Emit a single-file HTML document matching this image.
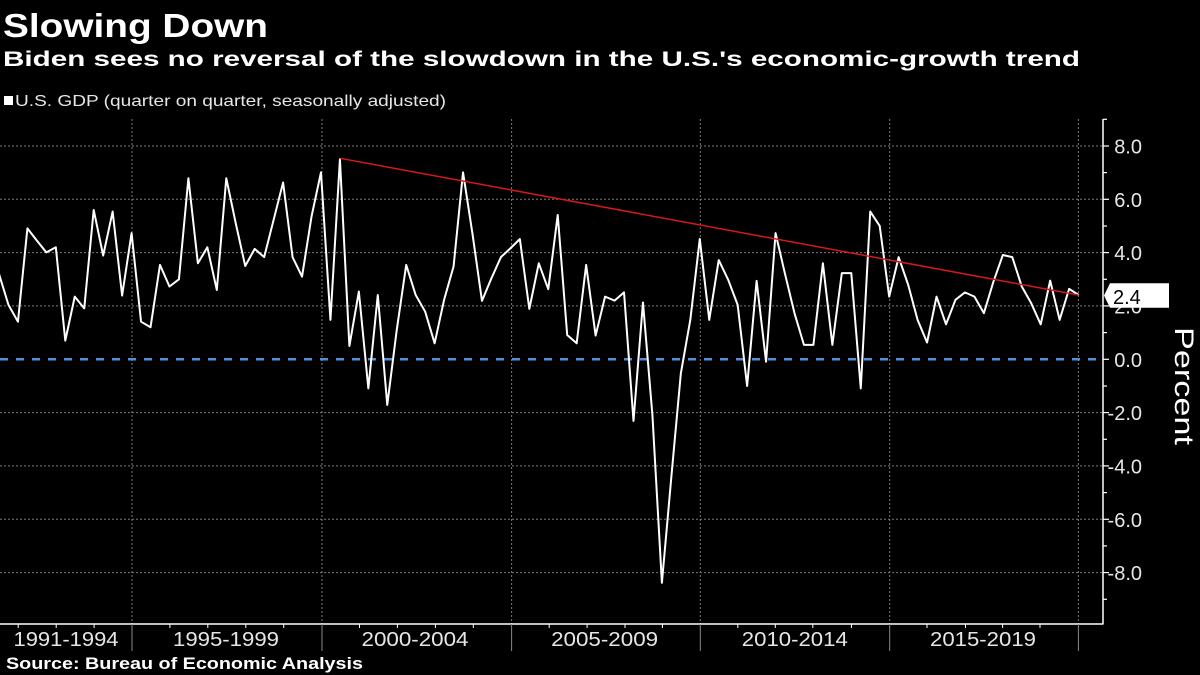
<!DOCTYPE html>
<html>
<head>
<meta charset="utf-8">
<style>
  html, body { margin:0; padding:0; background:#000; }
  body { width:1200px; height:675px; overflow:hidden; }
  svg { display:block; }
  text { font-family: "Liberation Sans", "DejaVu Sans", sans-serif; }
</style>
</head>
<body>
<svg width="1200" height="675" viewBox="0 0 1200 675" xmlns="http://www.w3.org/2000/svg">
  <rect x="0" y="0" width="1200" height="675" fill="#000"/>

  <!-- Titles -->
  <text x="3" y="37" font-size="33" font-weight="bold" fill="#fff" textLength="265" lengthAdjust="spacingAndGlyphs">Slowing Down</text>
  <text x="3" y="66" font-size="21" font-weight="bold" fill="#fff" textLength="1077" lengthAdjust="spacingAndGlyphs">Biden sees no reversal of the slowdown in the U.S.'s economic-growth trend</text>

  <!-- Legend -->
  <rect x="4" y="96" width="9" height="9" fill="#fff"/>
  <text x="15" y="106" font-size="16" fill="#e6e6e6" textLength="431" lengthAdjust="spacingAndGlyphs">U.S. GDP (quarter on quarter, seasonally adjusted)</text>

  <!-- Horizontal grid -->
  <g stroke="#7a7a7a" stroke-width="1" stroke-dasharray="2 2" fill="none">
    <line x1="0" y1="146" x2="1103" y2="146"/>
    <line x1="0" y1="199.3" x2="1103" y2="199.3"/>
    <line x1="0" y1="252.6" x2="1103" y2="252.6"/>
    <line x1="0" y1="305.9" x2="1103" y2="305.9"/>
    <line x1="0" y1="412.6" x2="1103" y2="412.6"/>
    <line x1="0" y1="465.9" x2="1103" y2="465.9"/>
    <line x1="0" y1="519.3" x2="1103" y2="519.3"/>
    <line x1="0" y1="572.6" x2="1103" y2="572.6"/>
  </g>
  <!-- Vertical grid -->
  <g stroke="#7a7a7a" stroke-width="1" stroke-dasharray="2 2" fill="none">
    <line x1="132" y1="119" x2="132" y2="624"/>
    <line x1="322" y1="119" x2="322" y2="624"/>
    <line x1="511.6" y1="119" x2="511.6" y2="624"/>
    <line x1="700.3" y1="119" x2="700.3" y2="624"/>
    <line x1="889.7" y1="119" x2="889.7" y2="624"/>
    <line x1="1078.4" y1="119" x2="1078.4" y2="624"/>
  </g>

  <!-- Zero line -->
  <line x1="0" y1="359.3" x2="1100" y2="359.3" stroke="#4b91de" stroke-width="2.5" stroke-dasharray="8 8"/>

  <!-- Data line -->
  <g transform="matrix(9.47 0 0 -26.67 -1 359.3)">
    <polyline fill="none" stroke="#fff" stroke-width="2" vector-effect="non-scaling-stroke" stroke-linejoin="round"
      points="0,3.2 1,2.04 2,1.41 3,4.91 4,4.45 5,4.01 6,4.2 7,0.7 8,2.35 9,1.91 10,5.6 11,3.89 12,5.54 13,2.39 14,4.73 15,1.41 16,1.2 17,3.54 18,2.73 19,3.0 20,6.79 21,3.6 22,4.2 23,2.6 24,6.79 25,5.1 26,3.5 27,4.14 28,3.83 29,5.23 30,6.63 31,3.83 32,3.1 33,5.35 34,7.01 35,1.48 36,7.5 37,0.5 38,2.54 39,-1.09 40,2.41 41,-1.71 42,1.1 43,3.54 44,2.41 45,1.79 46,0.6 47,2.23 48,3.48 49,7.01 50,4.7 51,2.19 52,3.04 53,3.83 54,4.16 55,4.51 56,1.89 57,3.6 58,2.63 59,5.41 60,0.91 61,0.6 62,3.54 63,0.89 64,2.35 65,2.2 66,2.51 67,-2.31 68,2.13 69,-2.1 70,-8.38 71,-4.4 72,-0.53 73,1.48 74,4.51 75,1.48 76,3.72 77,2.98 78,2.04 79,-1.0 80,2.94 81,-0.09 82,4.73 83,3.2 84,1.73 85,0.54 86,0.54 87,3.6 88,0.54 89,3.23 90,3.23 91,-1.09 92,5.54 93,5.0 94,2.35 95,3.83 96,2.8 97,1.48 98,0.63 99,2.35 100,1.31 101,2.23 102,2.51 103,2.35 104,1.73 105,2.9 106,3.91 107,3.83 108,2.73 109,2.1 110,1.31 111,2.95 112,1.48 113,2.64 114,2.41"/>
  </g>

  <!-- Trend line -->
  <line x1="340.3" y1="158.3" x2="1078.3" y2="295" stroke="#d81818" stroke-width="1.5"/>

  <!-- Axes -->
  <line x1="0" y1="624" x2="1103.5" y2="624" stroke="#fff" stroke-width="1.5"/>
  <line x1="1103" y1="119" x2="1103" y2="624" stroke="#fff" stroke-width="1.5"/>

  <!-- Right axis ticks -->
  <g stroke="#fff" stroke-width="1.2">
    <line x1="1103" y1="119.3" x2="1107" y2="119.3"/>
    <line x1="1103" y1="146" x2="1109" y2="146"/>
    <line x1="1103" y1="172.6" x2="1107" y2="172.6"/>
    <line x1="1103" y1="199.3" x2="1109" y2="199.3"/>
    <line x1="1103" y1="226" x2="1107" y2="226"/>
    <line x1="1103" y1="252.6" x2="1109" y2="252.6"/>
    <line x1="1103" y1="279.3" x2="1107" y2="279.3"/>
    <line x1="1103" y1="305.9" x2="1109" y2="305.9"/>
    <line x1="1103" y1="332.6" x2="1107" y2="332.6"/>
    <line x1="1103" y1="359.3" x2="1109" y2="359.3"/>
    <line x1="1103" y1="386" x2="1107" y2="386"/>
    <line x1="1103" y1="412.6" x2="1109" y2="412.6"/>
    <line x1="1103" y1="439.3" x2="1107" y2="439.3"/>
    <line x1="1103" y1="465.9" x2="1109" y2="465.9"/>
    <line x1="1103" y1="492.6" x2="1107" y2="492.6"/>
    <line x1="1103" y1="519.3" x2="1109" y2="519.3"/>
    <line x1="1103" y1="545.9" x2="1107" y2="545.9"/>
    <line x1="1103" y1="572.6" x2="1109" y2="572.6"/>
    <line x1="1103" y1="599.3" x2="1107" y2="599.3"/>
  </g>

  <!-- Right axis labels -->
  <g font-size="20" fill="#e6e6e6" text-anchor="end">
    <text x="1142" y="153.5">8.0</text>
    <text x="1142" y="206.8">6.0</text>
    <text x="1142" y="260.1">4.0</text>
    <text x="1142" y="313.4">2.0</text>
    <text x="1142" y="366.8">0.0</text>
    <text x="1142" y="420.1">-2.0</text>
    <text x="1142" y="473.4">-4.0</text>
    <text x="1142" y="526.8">-6.0</text>
    <text x="1142" y="580.1">-8.0</text>
  </g>

  <!-- Last value label -->
  <polygon points="1104,295.5 1110,283.3 1169,283.3 1169,307.7 1110,307.7" fill="#fff"/>
  <text x="1113" y="304" font-size="20" fill="#000">2.4</text>

  <!-- Percent -->
  <text transform="translate(1175,327) rotate(90)" font-size="27" fill="#fff" textLength="118" lengthAdjust="spacingAndGlyphs">Percent</text>

  <!-- Bottom axis year ticks -->
  <g stroke="#fff" stroke-width="1">
    <line x1="18.2" y1="624" x2="18.2" y2="628"/>
    <line x1="56.2" y1="624" x2="56.2" y2="628"/>
    <line x1="94.1" y1="624" x2="94.1" y2="628"/>
    <line x1="169.9" y1="624" x2="169.9" y2="628"/>
    <line x1="207.8" y1="624" x2="207.8" y2="628"/>
    <line x1="245.8" y1="624" x2="245.8" y2="628"/>
    <line x1="283.7" y1="624" x2="283.7" y2="628"/>
    <line x1="359.5" y1="624" x2="359.5" y2="628"/>
    <line x1="397.4" y1="624" x2="397.4" y2="628"/>
    <line x1="435.4" y1="624" x2="435.4" y2="628"/>
    <line x1="473.3" y1="624" x2="473.3" y2="628"/>
    <line x1="549.2" y1="624" x2="549.2" y2="628"/>
    <line x1="587.1" y1="624" x2="587.1" y2="628"/>
    <line x1="625" y1="624" x2="625" y2="628"/>
    <line x1="662.4" y1="624" x2="662.4" y2="628"/>
    <line x1="737.8" y1="624" x2="737.8" y2="628"/>
    <line x1="775.3" y1="624" x2="775.3" y2="628"/>
    <line x1="812.8" y1="624" x2="812.8" y2="628"/>
    <line x1="851.4" y1="624" x2="851.4" y2="628"/>
    <line x1="927" y1="624" x2="927" y2="628"/>
    <line x1="965.5" y1="624" x2="965.5" y2="628"/>
    <line x1="1002.6" y1="624" x2="1002.6" y2="628"/>
    <line x1="1040" y1="624" x2="1040" y2="628"/>
  </g>
  <!-- Category separators -->
  <g stroke="#8a8a8a" stroke-width="1">
    <line x1="132" y1="624" x2="132" y2="651"/>
    <line x1="322" y1="624" x2="322" y2="651"/>
    <line x1="511.6" y1="624" x2="511.6" y2="651"/>
    <line x1="700.3" y1="624" x2="700.3" y2="651"/>
    <line x1="889.7" y1="624" x2="889.7" y2="651"/>
    <line x1="1078.4" y1="624" x2="1078.4" y2="651"/>
  </g>

  <!-- Bottom labels -->
  <g font-size="20" fill="#e6e6e6" text-anchor="middle">
    <text x="66" y="646" textLength="105" lengthAdjust="spacingAndGlyphs">1991-1994</text>
    <text x="226" y="646" textLength="106" lengthAdjust="spacingAndGlyphs">1995-1999</text>
    <text x="415" y="646" textLength="107" lengthAdjust="spacingAndGlyphs">2000-2004</text>
    <text x="604.6" y="646" textLength="107" lengthAdjust="spacingAndGlyphs">2005-2009</text>
    <text x="794.8" y="646" textLength="106" lengthAdjust="spacingAndGlyphs">2010-2014</text>
    <text x="983" y="646" textLength="106" lengthAdjust="spacingAndGlyphs">2015-2019</text>
  </g>

  <!-- Source -->
  <text x="6" y="669" font-size="17" font-weight="bold" fill="#fff" textLength="357" lengthAdjust="spacingAndGlyphs">Source: Bureau of Economic Analysis</text>
</svg>
</body>
</html>
